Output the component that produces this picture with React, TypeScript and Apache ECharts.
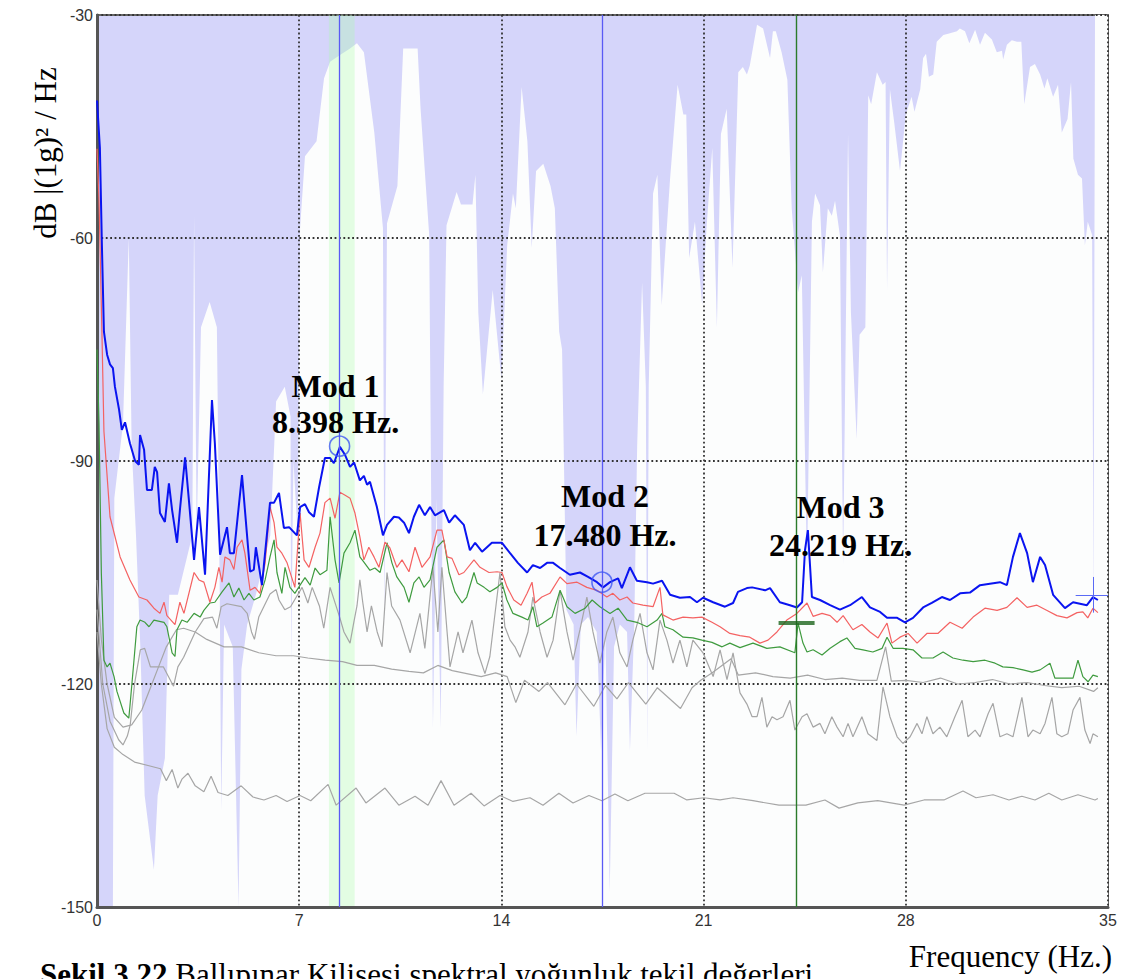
import React, { useEffect, useRef } from "react";
import * as echarts from "echarts";

// ---------- axis ----------
const xMin = 0;
const xMax = 35;
const xStep = 7;
const yMin = -150;
const yMax = -30;
const yStep = 30;

// ---------- coherence-like band: white area below this boundary (dB) ----------
const coherenceBoundary: [number, number][] = [
  [0, -150], [0.3, -150], [0.55, -150], [0.6, -95], [0.9, -85], [1.1, -60], [1.2, -88], [1.35, -100],
  [1.5, -115], [1.65, -135], [1.97, -145], [2.1, -135], [2.35, -130], [2.5, -108], [2.8, -108],
  [3.3, -100], [3.36, -57], [3.45, -100], [3.6, -72], [3.9, -68.6], [4.15, -72], [4.25, -108],
  [4.3, -137], [4.4, -112], [4.7, -115], [4.9, -150], [5.0, -118], [5.2, -112], [5.5, -108],
  [6.0, -100], [6.2, -82], [6.5, -80], [6.7, -84], [6.72, -117], [6.8, -90], [6.95, -100],
  [7.03, -58.7], [7.2, -49], [7.6, -47], [7.86, -38.5], [8.07, -36.3], [8.4, -35.4], [8.76, -34.5],
  [9.0, -33.8], [9.24, -35], [9.6, -45.8], [9.9, -58.7], [9.95, -112], [10.04, -58], [10.4, -53],
  [10.6, -34.5], [11.1, -34.5], [11.2, -42.5], [11.5, -59.6], [11.63, -126], [11.75, -95],
  [11.9, -126], [12.0, -80], [12.1, -58.3], [12.45, -53.8], [12.6, -55.5], [13.0, -55.5],
  [13.1, -51.5], [13.2, -70], [13.36, -81], [13.7, -67], [14.0, -79], [14.2, -61], [14.4, -54],
  [14.5, -56], [14.7, -39.7], [14.9, -47], [15.05, -61.3], [15.2, -51], [15.45, -50], [15.7, -53],
  [15.85, -56], [16.0, -72.6], [16.1, -75], [16.25, -110], [16.5, -112], [16.6, -127],
  [16.75, -112], [17.0, -111], [17.3, -113], [17.45, -129], [17.6, -113], [17.75, -148],
  [17.9, -115], [18.1, -112], [18.35, -113], [18.45, -129], [18.6, -112], [18.7, -88],
  [18.87, -66], [19.0, -80], [19.05, -129], [19.1, -80], [19.25, -54], [19.4, -51.5],
  [19.55, -69], [19.84, -52], [20.1, -39.4], [20.3, -43.4], [20.4, -43.4], [20.5, -62.7],
  [20.7, -57.8], [20.95, -69], [21.1, -58.7], [21.3, -47.9], [21.46, -72], [21.6, -46],
  [21.8, -42.6], [22.0, -64], [22.2, -37.7], [22.36, -37], [22.5, -38], [22.6, -36.8],
  [22.85, -31.3], [23.06, -31.8], [23.3, -35.8], [23.4, -32.2], [23.5, -32.2], [23.7, -35],
  [23.9, -38.7], [24.05, -56], [24.27, -67.3], [24.4, -65], [24.58, -105], [24.75, -57.8],
  [24.86, -54], [25.03, -55.6], [25.13, -64.6], [25.3, -56], [25.44, -57], [25.55, -55],
  [25.72, -59.7], [25.83, -104], [26.0, -46], [26.1, -70], [26.3, -87], [26.4, -73], [26.6, -72],
  [26.7, -40.8], [26.8, -42], [27.0, -37.7], [27.2, -39.4], [27.3, -39], [27.35, -67],
  [27.45, -40], [27.6, -44.5], [27.8, -51], [28.0, -43.4], [28.2, -41], [28.3, -43], [28.5, -40],
  [28.6, -35.8], [28.7, -35.2], [28.8, -38.3], [28.95, -38], [29.07, -33.6], [29.3, -32.7],
  [29.5, -32.5], [29.77, -32.2], [29.87, -31.8], [30.05, -32.2], [30.2, -33.8], [30.4, -32],
  [30.57, -34], [30.74, -32.4], [30.98, -33.3], [31.15, -35], [31.33, -34.8], [31.37, -36],
  [31.5, -34], [31.67, -33.4], [31.85, -33.6], [32.0, -33.6], [32.1, -42], [32.3, -37],
  [32.47, -36.6], [32.65, -38], [32.8, -39.9], [32.9, -38.5], [33.1, -41], [33.27, -39.4],
  [33.4, -45.8], [33.6, -44], [33.72, -39], [33.8, -49.3], [33.96, -51.5], [34.1, -52],
  [34.2, -61], [34.3, -57.8], [34.45, -59.6], [34.5, -110], [34.55, -30], [35, -30],
];

// ---------- singular value spectra (dB) ----------
const sv1: [number, number][] = [
  [0, -41.5], [0.1, -47.9], [0.17, -61], [0.24, -72.6], [0.35, -75.7], [0.45, -77], [0.55, -77.5],
  [0.62, -80], [0.76, -83], [0.86, -85.8], [0.97, -84.8], [1.14, -87.6], [1.32, -90], [1.45, -90.5],
  [1.49, -86.5], [1.63, -88.5], [1.73, -93.9], [1.9, -93.9], [2.0, -90.8], [2.08, -91.5], [2.18, -97],
  [2.35, -98.2], [2.49, -93], [2.6, -96.6], [2.77, -101], [2.87, -96.6], [3.05, -89.5], [3.18, -95.2],
  [3.36, -103.3], [3.53, -96.2], [3.74, -105.3], [3.98, -81.8], [4.08, -87.6], [4.26, -102.6],
  [4.5, -98.9], [4.6, -102.4], [4.74, -102.4], [5.02, -91.9], [5.3, -104.9], [5.43, -104.6],
  [5.5, -101.6], [5.71, -106.7], [5.99, -95.6], [6.13, -95.6], [6.3, -94.3], [6.47, -99],
  [6.65, -98.9], [6.92, -100], [7.03, -96.2], [7.2, -95.8], [7.34, -96.9], [7.51, -97.5],
  [7.69, -93.5], [7.89, -89.6], [8.07, -89.6], [8.2, -90.3], [8.41, -88.1], [8.59, -89.2],
  [8.76, -90.8], [8.9, -90.2], [9.1, -92.6], [9.24, -92], [9.35, -93.2], [9.45, -92.8],
  [9.69, -96.2], [9.9, -100], [10.04, -98.6], [10.28, -97.5], [10.45, -97.6], [10.63, -98.3],
  [10.8, -99.7], [10.97, -97.5], [11.15, -95.9], [11.35, -97.3], [11.53, -96.2], [11.7, -97.3],
  [12.01, -96.6], [12.19, -98.3], [12.39, -97.3], [12.7, -98.6], [12.91, -102], [13.09, -101],
  [13.33, -102.2], [13.67, -101], [14.02, -101], [14.3, -102.4], [14.57, -103.7], [14.89, -105],
  [15.09, -104], [15.34, -104.4], [15.58, -103.7], [15.79, -103.7], [16.03, -104.4],
  [16.37, -105.3], [16.72, -105], [17.0, -105.6], [17.31, -106.3], [17.52, -107], [17.76, -106.3],
  [18.04, -105.8], [18.17, -107.1], [18.45, -104.3], [18.69, -106.1], [19.04, -106.3],
  [19.25, -106.5], [19.56, -106.1], [19.84, -108], [20.18, -108.4], [20.53, -108.3], [20.77, -109],
  [20.98, -108.4], [21.33, -109], [21.74, -109.6], [22.02, -109.1], [22.19, -107.6], [22.5, -107.1],
  [22.68, -107], [23.13, -107.4], [23.3, -107.1], [23.64, -109], [23.99, -109.4], [24.23, -109.7],
  [24.41, -109], [24.51, -102], [24.61, -99.3], [24.75, -108.3], [25.03, -108.7], [25.38, -109.4],
  [25.72, -110], [26.07, -109.4], [26.48, -108.3], [26.76, -109.7], [27.11, -110.3],
  [27.35, -111.1], [27.7, -111.1], [27.97, -111.7], [28.25, -111.1], [28.6, -109.7],
  [28.9, -109.1], [29.25, -108.3], [29.53, -108.7], [29.88, -107.8], [30.22, -107.7],
  [30.57, -106.7], [30.91, -106.5], [31.26, -106.3], [31.5, -106.7], [31.71, -102.9],
  [31.95, -99.7], [32.2, -102.4], [32.4, -106.3], [32.65, -102.9], [32.82, -104], [33.1, -108],
  [33.51, -109.8], [33.79, -109], [34.27, -109.4], [34.48, -108.3], [34.65, -108.7],
];

const sv2: [number, number][] = [
  [0, -48], [0.07, -55], [0.17, -72.6], [0.24, -86], [0.45, -97.5], [0.8, -102.9], [1.14, -106],
  [1.45, -108.3], [1.73, -108.7], [1.97, -109.8], [2.18, -110.5], [2.32, -109], [2.42, -110.8],
  [2.7, -112], [2.87, -109], [3.01, -110.5], [3.36, -105], [3.53, -106], [3.7, -106.3], [3.91, -109],
  [4.08, -107], [4.22, -104.3], [4.33, -106.3], [4.43, -102.9], [4.6, -103.3], [4.74, -104.6],
  [4.85, -101.6], [5.02, -100.6], [5.12, -102.4], [5.3, -107.4], [5.47, -107], [5.64, -107.8],
  [5.82, -103.7], [5.99, -96.2], [6.13, -98.3], [6.23, -101.6], [6.4, -102.4], [6.58, -103.7],
  [6.85, -107], [7.03, -97], [7.17, -103.3], [7.34, -104.3], [7.55, -101.6], [7.72, -99.7],
  [7.89, -95.6], [8.07, -95], [8.24, -97.7], [8.41, -94.2], [8.59, -94.6], [8.76, -95], [8.93, -97],
  [9.1, -100.2], [9.24, -103.3], [9.41, -101.6], [9.59, -102.9], [9.76, -104.3], [9.97, -100.9],
  [10.14, -101.7], [10.38, -104.3], [10.56, -103.3], [10.8, -104.9], [11.01, -101.6],
  [11.25, -104.3], [11.53, -102.9], [11.77, -99.3], [11.94, -99.3], [12.12, -102.9],
  [12.29, -103.1], [12.53, -105.3], [12.7, -105], [13.05, -103.3], [13.26, -104.3], [13.57, -105],
  [13.85, -104.9], [14.02, -105], [14.19, -106.9], [14.43, -108.7], [14.68, -109.4],
  [14.89, -107.8], [15.06, -106.3], [15.16, -109.1], [15.4, -108.3], [15.68, -107.8],
  [16.03, -105.6], [16.27, -106.5], [16.62, -106.3], [16.96, -107], [17.31, -107.4],
  [17.65, -108.3], [17.86, -107.8], [18.1, -108.7], [18.35, -108.3], [18.55, -109.1],
  [18.9, -109.4], [19.25, -109.6], [19.49, -107], [19.59, -110.7], [19.94, -111.4], [20.29, -111],
  [20.63, -111.1], [20.94, -111], [21.29, -111.7], [21.57, -112.3], [21.91, -113.2],
  [22.26, -113.5], [22.6, -113.7], [22.95, -114.5], [23.23, -114.1], [23.54, -113],
  [23.88, -111.4], [24.23, -110.5], [24.58, -109.1], [24.79, -110.9], [25.1, -110.5],
  [25.38, -110.8], [25.62, -111.7], [25.83, -110.8], [26.17, -112.7], [26.48, -112], [26.76, -113],
  [27.04, -113.8], [27.35, -111.8], [27.52, -114.5], [27.8, -113.7], [28.08, -113.2],
  [28.39, -114.5], [28.73, -113.2], [29.11, -113.2], [29.53, -111.7], [29.95, -112.5], [30.33, -111],
  [30.74, -109.8], [31.16, -110.1], [31.5, -109.7], [31.85, -108.4], [32.2, -109.7],
  [32.54, -109.4], [32.89, -110.1], [33.23, -110.8], [33.58, -111.1], [33.93, -110.4],
  [34.13, -110.3], [34.3, -111.1], [34.48, -109.8], [34.65, -110.4],
];

const sv3: [number, number][] = [
  [0, -75], [0.07, -85], [0.15, -105], [0.24, -116.8], [0.35, -117.7], [0.45, -117.2], [0.59, -119],
  [0.69, -121], [0.93, -123.9], [1.1, -124.6], [1.14, -123], [1.28, -116.8], [1.38, -112.3],
  [1.49, -111.4], [1.66, -111.7], [1.8, -112.3], [1.97, -111.4], [2.32, -111.7], [2.42, -112.3],
  [2.6, -115.8], [2.7, -116.3], [2.77, -112.7], [2.94, -111.4], [3.12, -111.7], [3.36, -110.5],
  [3.57, -111], [3.7, -110.1], [3.91, -109.1], [4.08, -109], [4.33, -107.6], [4.57, -106.4],
  [4.74, -108.3], [4.91, -107.1], [5.09, -108.7], [5.26, -107.8], [5.43, -108.7], [5.64, -108.3],
  [5.82, -106], [5.99, -102.9], [6.13, -100.6], [6.23, -105], [6.4, -107.8], [6.51, -104.3],
  [6.68, -107], [6.85, -107.8], [7.03, -106.7], [7.2, -105.7], [7.38, -106.7], [7.55, -104.4],
  [7.72, -105.3], [7.96, -104.7], [8.07, -97.5], [8.24, -103.3], [8.38, -106.4], [8.55, -102.4],
  [8.76, -101], [8.93, -99.3], [9.1, -102.9], [9.24, -103.6], [9.45, -104.7], [9.62, -104.4],
  [9.8, -105], [10.04, -101], [10.21, -103.7], [10.38, -105.6], [10.63, -107], [10.8, -109],
  [10.97, -106.4], [11.15, -105.6], [11.32, -107], [11.53, -106], [11.77, -101.6], [12.01, -100.6],
  [12.19, -105], [12.39, -107.6], [12.64, -109.1], [12.8, -108.3], [13.05, -105], [13.16, -106.4],
  [13.4, -107], [13.6, -107.6], [13.85, -107], [14.02, -106.4], [14.19, -108.7], [14.4, -110.5],
  [14.71, -111], [14.92, -111.4], [15.09, -109.6], [15.23, -112.3], [15.44, -111.8], [15.75, -111],
  [16.03, -107.4], [16.27, -109.6], [16.55, -110.5], [16.9, -109.8], [17.14, -108.7],
  [17.41, -109.6], [17.76, -110.5], [18.04, -109.8], [18.35, -111.4], [18.69, -111.7],
  [19.04, -112.3], [19.39, -111.4], [19.56, -110.5], [19.66, -112.3], [19.94, -112.7],
  [20.29, -113.7], [20.63, -113.8], [20.94, -114.1], [21.29, -114.4], [21.64, -115],
  [21.91, -114.5], [22.26, -115.1], [22.71, -114.5], [23.19, -115.2], [23.64, -115],
  [24.16, -115.8], [24.27, -111.8], [24.44, -114.5], [24.58, -115.7], [24.79, -115.4],
  [25.1, -116.1], [25.38, -115.2], [25.72, -114.3], [25.96, -113.8], [26.24, -115.2],
  [26.52, -115.4], [26.86, -115.7], [27.18, -115.2], [27.35, -113.7], [27.56, -115.2],
  [27.9, -115.2], [28.25, -115.4], [28.56, -116.5], [28.94, -116.5], [29.29, -115.7],
  [29.63, -116.5], [29.98, -116.8], [30.33, -117], [30.74, -116.8], [31.09, -117.2],
  [31.36, -117.7], [31.71, -117.8], [32.06, -118.1], [32.37, -118.4], [32.65, -118.1],
  [32.99, -117.2], [33.16, -119.2], [33.51, -119.2], [33.79, -119.2], [33.96, -116.8], [34.13, -119],
  [34.31, -119.7], [34.48, -118.8], [34.65, -119],
];

const sv4: [number, number][] = [
  [0, -106], [0.15, -114], [0.35, -120], [0.6, -124.5], [0.9, -125.8], [1.2, -125.5], [1.55, -123.5],
  [1.8, -121], [2.1, -118], [2.4, -115], [2.75, -112.7], [3.0, -112.5], [3.4, -113], [3.8, -114],
  [4.4, -115], [5.0, -115], [5.6, -115.8], [6.2, -116.2], [6.8, -116.2], [7.3, -116.5],
  [7.9, -116.8], [8.5, -117], [9.0, -117.5], [9.6, -117.5], [10.2, -118], [10.8, -118.3],
  [11.3, -118.5], [11.8, -117.5], [12.3, -118.2], [12.8, -118.6], [13.3, -119], [13.8, -118.5],
  [14.2, -119], [14.5, -122.5], [14.8, -119.5], [15.3, -121], [15.6, -119.8], [16.2, -122.8],
  [16.6, -120], [17.2, -123], [17.6, -120.2], [18.0, -122], [18.4, -119.8], [19.0, -122.7],
  [19.4, -120.5], [20.2, -123.3], [20.6, -120.5], [20.9, -119.5], [21.3, -118.5], [21.95, -116.6],
  [22.2, -118.8], [22.8, -118.5], [23.4, -119], [24.0, -119.2], [24.6, -118.8], [25.2, -119.4],
  [25.8, -119.2], [26.4, -119.5], [27.0, -119.5], [27.3, -115], [27.5, -119.6], [28.0, -119.5],
  [28.6, -119.8], [29.2, -119.2], [29.8, -120], [30.4, -119.8], [31.0, -119.4], [31.6, -120],
  [32.2, -119.8], [32.8, -120.2], [33.4, -120.5], [34.0, -120.3], [34.5, -121], [34.65, -120.5],
];

const sv5: [number, number][] = [
  [0, -110], [0.2, -120], [0.45, -125], [0.75, -127.5], [0.9, -128.2], [1.05, -127], [1.15, -125.5],
  [1.3, -120], [1.5, -115.4], [1.65, -115.2], [1.85, -117.7], [2.3, -117.7], [2.65, -120.3],
  [2.8, -117.7], [3.0, -116.4], [3.4, -113], [3.7, -111.2], [4.0, -111], [4.15, -112.5],
  [4.3, -109.6], [4.5, -109.2], [5.0, -109.6], [5.2, -110.5], [5.35, -113], [5.45, -114],
  [5.6, -111], [5.99, -107.9], [6.2, -107.3], [6.3, -108.7], [6.5, -110], [6.7, -109.6],
  [6.9, -108.3], [7.1, -107], [7.3, -109.1], [7.45, -107], [7.7, -109.5], [7.85, -112.5],
  [8.07, -107], [8.4, -111], [8.55, -113], [8.76, -114.5], [8.9, -111.5], [9.0, -109.5],
  [9.1, -106], [9.2, -109], [9.35, -113], [9.5, -109.5], [9.7, -113], [9.87, -115], [10.04, -105],
  [10.2, -109.5], [10.49, -111.4], [10.84, -115.8], [11.18, -110.5], [11.35, -115.2],
  [11.63, -104.3], [11.8, -113], [11.94, -104.3], [12.12, -113], [12.22, -117.7], [12.5, -113],
  [12.67, -115.8], [12.98, -111.4], [13.19, -115.8], [13.43, -118.6], [13.6, -116.3],
  [13.95, -105], [14.12, -112.3], [14.3, -114.1], [14.47, -115], [14.64, -116.4], [14.92, -113],
  [15.09, -108.3], [15.34, -113], [15.58, -116.4], [15.79, -114.1], [16.03, -107.4], [16.27, -113],
  [16.48, -116.8], [16.72, -112.7], [16.96, -108.3], [17.17, -113], [17.41, -117.2], [17.65, -113],
  [17.86, -111], [18.1, -115.8], [18.35, -117.7], [18.55, -114.1], [18.8, -110.5], [19.04, -115.8],
  [19.25, -118.1], [19.49, -111.4], [19.73, -114.1], [19.94, -117.2], [20.18, -114.1],
  [20.42, -117.7], [20.63, -114.1], [20.98, -115.8], [21.33, -119], [21.57, -115.4],
  [21.81, -119.4], [22.02, -115.8], [22.26, -121.2], [22.5, -122.7], [22.68, -124.4],
  [22.85, -124.4], [23.02, -121.8], [23.19, -125.8], [23.37, -124.4], [23.54, -124.8],
  [23.75, -124.4], [23.99, -122.2], [24.16, -126.2], [24.41, -124.4], [24.58, -124],
  [24.79, -125.8], [25.03, -125.3], [25.2, -126.7], [25.44, -124.4], [25.62, -125.8],
  [25.83, -127.1], [26.0, -125.3], [26.17, -127.1], [26.48, -124.4], [26.69, -126.7], [27.0, -127.6],
  [27.21, -120.4], [27.45, -124.4], [27.7, -127.1], [27.9, -128], [28.15, -127.1], [28.39, -125.3],
  [28.56, -126.7], [28.73, -124.4], [28.94, -126.7], [29.18, -125.8], [29.42, -127.1],
  [29.7, -124.4], [29.95, -122.2], [30.15, -127.1], [30.4, -126.2], [30.57, -127.1], [30.85, -124],
  [31.02, -122.6], [31.26, -127.1], [31.5, -126.7], [31.71, -127.1], [32.02, -121.8],
  [32.23, -127.1], [32.4, -126.2], [32.65, -126.7], [32.82, -125.3], [33.06, -121.8],
  [33.23, -126.7], [33.4, -127.1], [33.61, -126.7], [33.79, -123.5], [34.03, -121.8],
  [34.2, -126.2], [34.38, -128], [34.48, -126.7], [34.65, -127.1],
];

const sv6: [number, number][] = [
  [0, -113], [0.15, -120], [0.35, -126], [0.6, -128.5], [0.9, -129.5], [1.3, -130.5], [1.8, -131],
  [2.2, -131.4], [2.4, -133], [2.6, -131.5], [2.8, -134], [2.94, -132.8], [3.15, -132],
  [3.4, -133.7], [3.7, -134.5], [3.95, -132.4], [4.19, -134.6], [4.53, -135], [4.99, -133.7],
  [5.4, -135.2], [5.78, -135.6], [6.2, -135], [6.58, -135.8], [7.03, -135], [7.4, -135.7],
  [8.0, -133.5], [8.28, -136.3], [8.97, -134], [9.31, -136], [9.97, -134], [10.45, -136.3],
  [11.01, -135.1], [11.46, -136.3], [11.91, -133], [12.36, -136.3], [12.95, -134.7],
  [13.4, -136.4], [13.95, -135], [14.4, -135.8], [14.99, -135.3], [15.44, -136.3], [15.99, -134.7],
  [16.48, -136], [17.03, -135], [17.48, -135.7], [17.93, -134.8], [18.38, -135.7], [18.97, -134.7],
  [19.53, -134.7], [19.98, -134.7], [20.42, -135.6], [21.01, -135.3], [21.57, -135.6],
  [22.02, -135.3], [22.71, -135.7], [23.61, -136.3], [24.54, -136.3], [25.2, -135.6],
  [25.69, -136.7], [26.34, -136], [27.03, -135.7], [27.94, -136.3], [28.63, -135.6],
  [29.32, -135.6], [29.98, -134.4], [30.43, -135.3], [31.02, -134.9], [31.57, -135.6],
  [32.02, -135.1], [32.47, -135.6], [32.95, -134.7], [33.4, -135.6], [33.96, -134.9],
  [34.55, -135.6], [34.65, -135.4],
];

// ---------- picked modes ----------
const modeNames = ["Mod 1", "Mod 2", "Mod 3"];
const modeHz = [8.398, 17.48, 24.219];
const modeDb = [-88, -106.3, -111.8];
const modeBand = [8.03, 8.92];
const cursorPoint = [34.48, -108];
const cursorHalfWidthHz = 0.6;
const cursorHalfHeightDb = 2.4;

export default function App() {
  const ref = useRef<HTMLDivElement>(null);

  useEffect(() => {
    document.body.style.margin = "0";
    if (!ref.current) return;
    const chart = echarts.init(ref.current, undefined, { renderer: "svg" });

    const grayLine = (data: [number, number][]) => ({
      type: "line",
      data,
      symbol: "none",
      z: 4,
      lineStyle: { color: "#a6a6a6", width: 1.2 },
    });

    const option: any = {
      animation: false,
      backgroundColor: "#ffffff",
      grid: {
        left: 97,
        right: 16,
        top: 15,
        bottom: 72,
        show: true,
        z: 0,
        backgroundColor: "#d5d5fa",
        borderColor: "#666",
        borderWidth: 2,
      },
      xAxis: {
        type: "value",
        min: xMin,
        max: xMax,
        interval: xStep,
        z: 3,
        axisLine: { show: true, lineStyle: { color: "#555", width: 3 } },
        axisTick: { show: false },
        axisLabel: {
          color: "#333",
          fontFamily: "Liberation Sans",
          fontSize: 16,
          margin: 5,
        },
        splitLine: {
          show: true,
          lineStyle: { color: "#333", width: 1.8, type: [1.8, 2.6] },
        },
      },
      yAxis: {
        type: "value",
        min: yMin,
        max: yMax,
        interval: yStep,
        z: 3,
        axisLine: { show: true, lineStyle: { color: "#555", width: 3 } },
        axisTick: { show: false },
        axisLabel: {
          color: "#333",
          fontFamily: "Liberation Sans",
          fontSize: 16,
          margin: 4,
        },
        splitLine: {
          show: true,
          lineStyle: { color: "#333", width: 1.8, type: [1.8, 2.6] },
        },
      },
      series: [
        {
          type: "line",
          data: coherenceBoundary,
          symbol: "none",
          z: 1,
          lineStyle: { width: 0, opacity: 0 },
          areaStyle: { color: "#fcfdfd", opacity: 1, origin: "start" },
          markArea: {
            silent: true,
            z: 2,
            itemStyle: { color: "rgba(170,255,170,0.3)" },
            data: [[{ xAxis: modeBand[0] }, { xAxis: modeBand[1] }]],
          },
        },
        grayLine(sv6),
        grayLine(sv4),
        grayLine(sv5),
        {
          type: "line",
          data: sv3,
          symbol: "none",
          z: 4,
          lineStyle: { color: "#3f9b3f", width: 1.2 },
        },
        {
          type: "line",
          data: sv2,
          symbol: "none",
          z: 4,
          lineStyle: { color: "#f46262", width: 1.2 },
        },
        {
          type: "line",
          data: sv1,
          symbol: "none",
          z: 4,
          lineStyle: { color: "#0a14f0", width: 2 },
          markLine: {
            silent: true,
            symbol: "none",
            z: 5,
            label: { show: false },
            data: [
              { xAxis: modeHz[0], lineStyle: { color: "#5a5af5", width: 1.3, type: "solid" } },
              { xAxis: modeHz[1], lineStyle: { color: "#5a5af5", width: 1.3, type: "solid" } },
              { xAxis: modeHz[2], lineStyle: { color: "#2b7b2b", width: 1.4, type: "solid" } },
              [
                { coord: [cursorPoint[0] - cursorHalfWidthHz, cursorPoint[1]] },
                { coord: [xMax, cursorPoint[1]] },
              ].map((p) => ({ ...p, lineStyle: { color: "#5a6af5", width: 1, type: "solid" } })),
              [
                { coord: [cursorPoint[0], cursorPoint[1] + cursorHalfHeightDb] },
                { coord: [cursorPoint[0], cursorPoint[1] - cursorHalfHeightDb] },
              ].map((p) => ({ ...p, lineStyle: { color: "#5a6af5", width: 1, type: "solid" } })),
            ],
          },
        },
        {
          type: "scatter",
          z: 6,
          symbol: "circle",
          symbolSize: 20,
          itemStyle: { color: "rgba(0,0,0,0)", borderColor: "#3e58f2", borderWidth: 1.6 },
          data: [
            [modeHz[0], modeDb[0]],
            [modeHz[1], modeDb[1]],
          ],
        },
        {
          type: "scatter",
          z: 6,
          symbol: "rect",
          symbolSize: [36, 4],
          itemStyle: { color: "#1d651d" },
          data: [[modeHz[2], modeDb[2]]],
        },
      ],
    };

    chart.setOption(option);

    // label offsets (pixels) relative to each mode marker
    const labelOffsets = [
      [-4, -60, -24],
      [3, -86, -47],
      [44, -116, -78],
    ];
    const modeFont = {
      fontFamily: "Liberation Serif",
      fontWeight: "bold",
      fontSize: 32,
      fill: "#000",
      textAlign: "center",
      textVerticalAlign: "middle",
    };
    const elements: any[] = [];
    modeHz.forEach((hz, i) => {
      const p = chart.convertToPixel({ gridIndex: 0 }, [hz, modeDb[i]]) as number[];
      const [dx, dy1, dy2] = labelOffsets[i];
      elements.push({
        type: "text",
        z: 100,
        x: p[0] + dx,
        y: p[1] + dy1,
        style: { ...modeFont, text: modeNames[i] },
      });
      elements.push({
        type: "text",
        z: 100,
        x: p[0] + dx,
        y: p[1] + dy2,
        style: { ...modeFont, text: hz.toFixed(3) + " Hz." },
      });
    });

    elements.push({
      type: "text",
      x: 45,
      y: 153,
      rotation: Math.PI / 2,
      style: {
        text: "dB |(1g)² / Hz",
        fontFamily: "Liberation Serif",
        fontSize: 31,
        fill: "#000",
        textAlign: "center",
        textVerticalAlign: "middle",
      },
    });
    elements.push({
      type: "text",
      x: 1112,
      y: 956,
      style: {
        text: "Frequency (Hz.)",
        fontFamily: "Liberation Serif",
        fontSize: 31,
        fill: "#000",
        textAlign: "right",
        textVerticalAlign: "middle",
      },
    });
    elements.push({
      type: "text",
      x: 40,
      y: 974,
      style: {
        text: "{b|Şekil 3.22} {r|Ballıpınar Kilisesi spektral yoğunluk tekil değerleri}",
        rich: {
          b: { fontFamily: "Liberation Serif", fontWeight: "bold", fontSize: 31, fill: "#000" },
          r: { fontFamily: "Liberation Serif", fontSize: 31, fill: "#000" },
        },
        fontFamily: "Liberation Serif",
        fontSize: 31,
        fill: "#000",
        textAlign: "left",
        textVerticalAlign: "middle",
      },
    });

    chart.setOption({ graphic: { elements } });

    return () => chart.dispose();
  }, []);

  return <div ref={ref} style={{ width: 1124, height: 979 }} />;
}
